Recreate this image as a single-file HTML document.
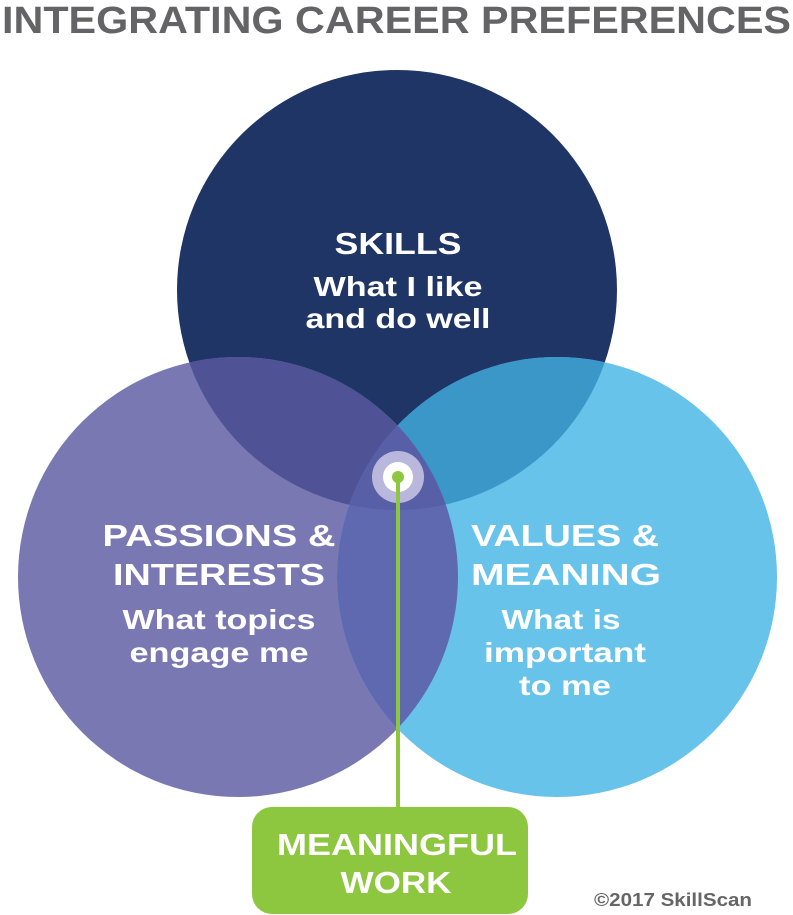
<!DOCTYPE html>
<html><head><style>body{margin:0;background:#fff}svg{display:block}</style></head><body>
<svg width="793" height="915" viewBox="0 0 793 915" font-family="Liberation Sans, sans-serif" font-weight="bold">
<defs>
<clipPath id="cT"><circle cx="397" cy="290" r="220"/></clipPath>
<clipPath id="cL"><circle cx="238" cy="577" r="220"/></clipPath>
<clipPath id="cR"><circle cx="557" cy="577" r="220"/></clipPath>
</defs>
<text x="2" y="33" font-size="38" fill="#646466" textLength="789" lengthAdjust="spacingAndGlyphs">INTEGRATING CAREER PREFERENCES</text>
<circle cx="397" cy="290" r="220" fill="#1f3566"/>
<circle cx="238" cy="577" r="220" fill="#7a78b3"/>
<circle cx="557" cy="577" r="220" fill="#67c3ea"/>
<circle cx="238" cy="577" r="220" fill="#4f5294" clip-path="url(#cT)"/>
<circle cx="557" cy="577" r="220" fill="#3a97c8" clip-path="url(#cT)"/>
<g clip-path="url(#cL)"><circle cx="557" cy="577" r="220" fill="#5e69b0"/></g>
<g clip-path="url(#cT)"><g clip-path="url(#cL)"><circle cx="557" cy="577" r="220" fill="#5760a7"/></g></g>
<g fill="#fff" text-anchor="middle" lengthAdjust="spacingAndGlyphs">
<text x="398" y="254" font-size="31" textLength="127" lengthAdjust="spacingAndGlyphs">SKILLS</text>
<text x="398" y="296" font-size="28" textLength="169" lengthAdjust="spacingAndGlyphs">What I like</text>
<text x="398" y="328" font-size="28" textLength="185" lengthAdjust="spacingAndGlyphs">and do well</text>
<text x="219" y="546" font-size="31" textLength="233" lengthAdjust="spacingAndGlyphs">PASSIONS &amp;</text>
<text x="219" y="585" font-size="31" textLength="212" lengthAdjust="spacingAndGlyphs">INTERESTS</text>
<text x="219" y="629" font-size="28" textLength="193" lengthAdjust="spacingAndGlyphs">What topics</text>
<text x="219" y="662" font-size="28" textLength="179" lengthAdjust="spacingAndGlyphs">engage me</text>
<text x="565" y="546" font-size="31" textLength="188" lengthAdjust="spacingAndGlyphs">VALUES &amp;</text>
<text x="566" y="585" font-size="31" textLength="190" lengthAdjust="spacingAndGlyphs">MEANING</text>
<text x="561" y="629" font-size="28" textLength="119" lengthAdjust="spacingAndGlyphs">What is</text>
<text x="565" y="662" font-size="28" textLength="162" lengthAdjust="spacingAndGlyphs">important</text>
<text x="565" y="695" font-size="28" textLength="92" lengthAdjust="spacingAndGlyphs">to me</text>
</g>
<circle cx="398" cy="477" r="26" fill="#b9b8dc"/>
<circle cx="398" cy="477" r="15" fill="#fff"/>
<rect x="396" y="477" width="4" height="332" fill="#8dc63f"/>
<circle cx="398" cy="477" r="6" fill="#8dc63f"/>
<rect x="252" y="807" width="276" height="107" rx="20" fill="#8dc63f"/>
<g fill="#fff" text-anchor="middle" font-size="31">
<text x="397" y="855" textLength="240" lengthAdjust="spacingAndGlyphs">MEANINGFUL</text>
<text x="396" y="893" textLength="111" lengthAdjust="spacingAndGlyphs">WORK</text>
</g>
<text x="673" y="906" font-size="18" fill="#666" text-anchor="middle" textLength="158" lengthAdjust="spacingAndGlyphs">©2017 SkillScan</text>
</svg>
</body></html>
